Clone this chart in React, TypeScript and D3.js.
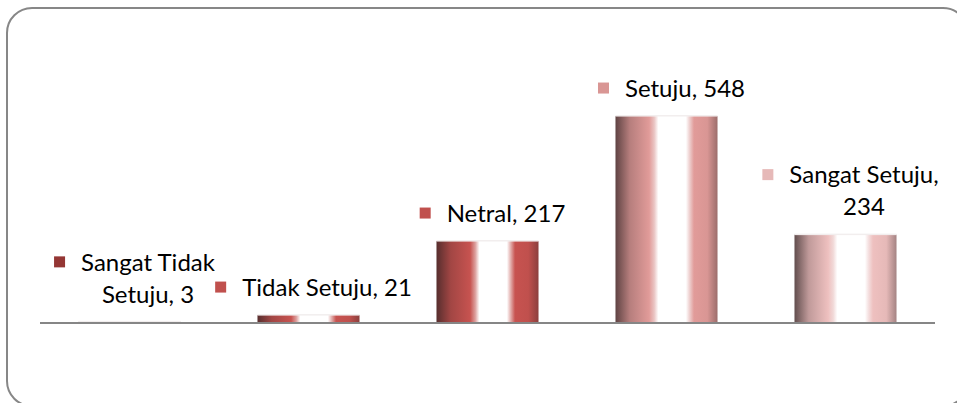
import React, { useEffect, useRef } from 'react';
import * as d3 from 'd3';

const categories = ['Sangat Tidak Setuju', 'Tidak Setuju', 'Netral', 'Setuju', 'Sangat Setuju'];
const values = [3, 21, 217, 548, 234];
const colors = ['#943634', '#C0504D', '#C0504D', '#D99694', '#E6B9B8'];
// label lines as the chart wraps them
const labelLines = [
  ['Sangat Tidak', 'Setuju, 3'],
  ['Tidak Setuju, 21'],
  ['Netral, 217'],
  ['Setuju, 548'],
  ['Sangat Setuju,', '234'],
];

const W = 957;
const H = 403;

const App = () => {
  const ref = useRef<SVGSVGElement>(null);

  useEffect(() => {
    const svg = d3.select(ref.current);
    svg.selectAll('*').remove();

    const x = d3.scaleBand<string>()
      .domain(categories)
      .range([40, 935])
      .paddingInner(0.43)
      .paddingOuter(0.215);

    const y = d3.scaleLinear().domain([0, 600]).range([323, 96.4]);

    const defs = svg.append('defs');
    colors.forEach((c, i) => {
      const base = d3.rgb(c);
      const dark = d3.interpolateRgb(c, '#2a2020')(0.7);
      const lite = (t: number) => d3.interpolateRgb(c, '#ffffff')(t);
      const grad = defs.append('linearGradient')
        .attr('id', `g${i}`)
        .attr('x1', '0%').attr('x2', '100%')
        .attr('y1', '0%').attr('y2', '0%');
      const stops: [number, string][] = [
        [0, dark],
        [0.14, d3.interpolateRgb(c, '#2a2020')(0.2)],
        [0.33, base.brighter(0.1).formatHex()],
        [0.38, lite(0.45)],
        [0.42, '#ffffff'],
        [0.69, '#ffffff'],
        [0.73, lite(0.5)],
        [0.77, base.brighter(0.1).formatHex()],
        [0.9, c],
        [1, d3.interpolateRgb(c, '#2a2020')(0.35)],
      ];
      stops.forEach(([o, col]) => {
        grad.append('stop').attr('offset', o).attr('stop-color', col);
      });
    });

    // frame
    svg.append('rect')
      .attr('x', 7).attr('y', 8)
      .attr('width', 961).attr('height', 398)
      .attr('rx', 25).attr('ry', 25)
      .attr('fill', '#fff')
      .attr('stroke', '#878787')
      .attr('stroke-width', 2);

    // bars
    const g = svg.append('g');
    g.selectAll('rect.bar')
      .data(values)
      .enter()
      .append('rect')
      .attr('class', 'bar')
      .attr('x', (d, i) => x(categories[i])!)
      .attr('width', x.bandwidth())
      .attr('y', d => y(d))
      .attr('height', d => y(0) - y(d))
      .attr('fill', (d, i) => `url(#g${i})`);

    g.selectAll('rect.top')
      .data(values)
      .enter()
      .append('rect')
      .attr('class', 'top')
      .attr('x', (d, i) => x(categories[i])!)
      .attr('width', x.bandwidth())
      .attr('y', d => y(d) - 1)
      .attr('height', 1.5)
      .attr('fill', '#f2eeee');

    // axis line
    svg.append('line')
      .attr('x1', 40).attr('x2', 935)
      .attr('y1', y(0)).attr('y2', y(0))
      .attr('stroke', '#868686')
      .attr('stroke-width', 2);

    // data labels: marker to the left of a centred text block
    const fontSize = 24;
    const lineGap = 32;
    const markerSize = 11;
    const markerGap = 16;
    values.forEach((v, i) => {
      const lines = labelLines[i];
      const lab = svg.append('g');
      const barTop = y(v);
      const lastCenter = barTop - 28;
      const firstCenter = lastCenter - lineGap * (lines.length - 1);
      const texts = lines.map((t, j) =>
        lab.append('text')
          .attr('font-family', 'Lato, "Noto Sans", sans-serif')
          .attr('font-size', fontSize)
          .attr('fill', '#000')
          .attr('text-anchor', 'middle')
          .attr('y', firstCenter + j * lineGap + fontSize * 0.36)
          .text(t)
      );
      const widths = texts.map(t => (t.node() as SVGTextElement).getComputedTextLength());
      const blockW = Math.max(...widths);
      const total = markerSize + markerGap + blockW;
      const cx = x(categories[i])! + x.bandwidth() / 2 + 5;
      const left = cx - total / 2;
      const textCx = left + markerSize + markerGap + blockW / 2;
      texts.forEach(t => t.attr('x', textCx));
      const line0Left = textCx - widths[0] / 2 - markerGap - markerSize;
      lab.append('rect')
        .attr('x', line0Left)
        .attr('y', firstCenter - markerSize / 2)
        .attr('width', markerSize)
        .attr('height', markerSize)
        .attr('fill', colors[i]);
    });
  }, []);

  return (
    <svg
      ref={ref}
      width={W}
      height={H}
      style={{ position: 'absolute', left: 0, top: 0, background: '#fff' }}
    />
  );
};

export default App;
